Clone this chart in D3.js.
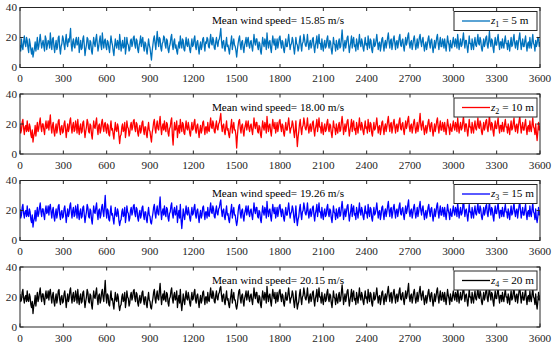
<!DOCTYPE html>
<html><head><meta charset="utf-8">
<script src="https://cdn.jsdelivr.net/npm/d3@7"></script>
<style>
body{margin:0;background:#fff}
svg{display:block}
text{font-family:"Liberation Serif","Times New Roman","DejaVu Serif",serif;fill:#262626}
</style>
</head><body>
<svg id="chart" width="553" height="346" font-family="'Liberation Serif','Times New Roman','DejaVu Serif',serif"></svg>
<script>
// ---- data ----
const xTicks = [0,300,600,900,1200,1500,1800,2100,2400,2700,3000,3300,3600];
const yTicks = [0,20,40];
const sampleStep = 5; // seconds between samples
const heightLabels = ["5","10","15","20"];
const heightIndex = ["1","2","3","4"];
const meanSpeeds = ["15.85","18.00","19.26","20.15"];
const lineColors = ["#0072BD","#FF0000","#0000FF","#000000"];

const speedZ1 = [
15,11,19,14,12,17,21,16,14,20,18,13,10,19,16,12,9,13,7,10,13,17,11,15,20,12,14,18,22,17,13,16,18,14,11,21,19,12,15,18,
17,13,23,16,12,19,20,14,10,15,18,12,14,20,21,13,9,14,16,21,19,15,12,18,22,16,14,19,17,21,26,15,11,17,19,14,13,18,20,15,
16,20,10,14,18,12,13,19,21,15,8,12,15,20,19,13,12,18,17,11,9,15,20,16,14,19,22,16,11,14,18,21,15,12,23,17,13,18,19,14,
12,18,17,13,10,16,21,17,15,11,8,14,19,15,13,18,16,12,22,17,11,15,18,13,14,20,9,13,20,16,15,11,12,18,19,14,16,20,21,15,
13,19,18,12,10,15,17,21,14,18,20,14,11,17,16,12,9,14,19,15,13,9,5,11,15,19,21,16,12,18,24,18,14,20,19,13,11,16,17,21,
20,15,13,19,18,12,10,14,16,20,22,15,12,17,19,13,15,11,9,14,17,13,21,16,13,19,18,12,11,16,20,15,14,19,16,12,10,15,19,14,
15,19,21,14,12,17,18,13,9,14,17,12,14,19,20,15,11,17,16,20,19,14,13,18,22,16,15,20,18,13,12,17,20,16,14,18,19,22,26,18,
13,17,18,13,11,16,20,14,15,12,9,14,17,21,12,16,19,15,14,11,7,12,16,19,21,15,12,17,18,13,10,15,17,20,14,18,20,15,13,17,
18,14,11,16,22,17,15,19,19,14,12,17,16,11,9,15,20,16,14,19,17,12,23,17,13,17,18,13,10,16,21,17,15,19,12,15,19,13,16,20,
21,16,13,18,17,12,10,15,19,14,14,18,22,17,12,15,16,20,18,13,9,14,20,16,15,11,13,18,21,15,11,16,17,22,19,15,14,17,22,16,
12,16,18,13,15,19,20,14,10,15,17,21,13,17,22,16,16,12,19,14,11,16,18,13,14,19,21,15,13,18,17,12,9,14,20,16,15,11,18,14,
12,17,19,13,14,19,25,18,11,15,18,13,16,20,21,15,10,14,17,21,13,18,20,14,15,11,19,16,12,17,22,16,14,19,17,13,11,16,20,15,
16,12,21,16,13,19,18,12,10,15,19,14,15,18,22,17,12,16,17,11,14,19,20,15,11,16,18,13,16,20,23,17,13,18,19,12,15,19,21,16,
12,17,18,13,16,20,22,15,14,18,19,14,11,16,20,15,17,21,23,16,13,17,18,12,15,19,21,16,12,15,19,13,16,20,22,17,14,18,20,15,
11,15,17,12,15,19,21,16,13,18,19,14,10,14,18,13,16,20,22,16,12,17,20,14,14,19,17,13,19,15,11,16,21,17,15,11,18,14,13,17,
20,16,14,19,17,13,22,17,12,16,19,14,15,19,23,17,13,18,18,14,10,15,21,16,16,12,19,15,12,17,20,15,14,18,22,16,15,20,18,13,
11,15,19,14,16,20,21,15,13,18,24,17,14,19,18,13,10,16,20,15,15,19,22,16,12,17,17,13,19,15,13,18,21,16,16,12,18,15,11,16,
20,14,15,19,22,16,13,17,18,12,16,20,23,17,12,16,19,14,14,18,21,15,11,16,17,13,20,15,13,18,22,16,15,11,18,14,16,20,19,14,
17];

const speedZ2 = [
20,14,16,21,23,17,13,18,19,15,22,16,15,20,18,13,11,16,8,12,14,19,12,17,21,15,17,21,24,18,15,20,20,16,13,19,22,17,18,22,
16,21,26,18,14,19,21,15,12,17,20,14,17,22,23,16,13,18,19,14,15,20,22,17,11,16,20,15,17,22,24,18,14,19,21,15,16,22,19,14,
23,17,13,18,20,14,15,21,22,16,11,15,18,23,21,15,14,20,19,13,10,16,22,18,17,21,24,17,13,19,20,14,16,21,23,18,15,20,21,16,
14,20,19,13,12,18,22,16,17,13,10,16,21,16,15,20,18,12,7,12,13,18,20,15,16,21,11,15,22,18,17,12,14,19,21,16,18,22,23,17,
15,21,20,14,12,17,19,14,16,21,22,16,13,18,18,13,11,17,21,16,15,11,8,14,17,21,23,17,14,19,22,17,16,21,25,18,13,18,20,16,
22,17,15,21,20,14,12,17,18,22,24,12,6,15,21,16,17,22,11,16,19,14,23,18,15,21,20,14,13,18,22,17,16,21,18,14,12,17,21,16,
17,21,23,16,14,19,20,15,11,16,19,14,16,21,22,17,13,18,18,14,21,16,15,20,24,18,17,22,20,15,14,19,22,17,16,20,21,24,27,19,
15,19,20,15,13,18,22,16,17,13,11,16,19,23,14,18,21,16,16,12,4,12,18,22,23,17,14,19,20,15,12,17,19,22,16,19,22,17,15,19,
20,16,13,18,24,19,17,21,21,15,14,19,18,13,11,17,22,18,16,21,19,14,25,19,15,19,20,15,12,18,23,19,17,21,14,17,21,15,18,22,
23,18,15,20,19,14,12,17,21,16,16,20,24,19,14,17,18,22,20,15,11,16,22,13,5,11,15,20,23,17,13,18,19,24,21,17,16,19,24,18,
14,18,20,15,17,21,22,16,12,17,19,23,15,19,24,18,18,14,21,16,13,18,20,15,16,21,23,17,15,20,19,14,11,16,22,18,17,13,20,16,
14,19,21,15,16,21,25,20,13,17,20,15,18,22,23,17,12,16,19,23,15,20,22,16,17,13,21,18,14,19,24,18,16,21,19,15,13,18,22,17,
18,14,23,18,15,21,20,14,12,17,21,16,17,20,24,19,14,18,19,13,16,21,22,17,13,18,20,15,18,22,25,19,15,20,21,14,17,21,23,18,
14,19,20,15,18,22,24,17,16,20,21,16,13,18,22,17,19,23,25,18,15,19,20,14,17,21,23,18,14,17,21,15,18,22,27,19,16,20,22,17,
13,17,19,14,17,21,23,18,15,20,21,16,12,16,20,15,18,22,24,18,14,19,22,16,16,21,19,15,21,17,13,18,23,19,17,13,20,16,15,19,
22,18,16,21,19,15,24,19,14,18,21,16,17,21,25,19,15,20,20,16,12,17,23,18,18,14,21,17,14,19,22,17,16,20,24,18,17,22,20,15,
13,17,21,16,18,22,23,17,15,20,26,19,16,21,20,15,12,18,22,17,17,21,24,18,14,19,19,15,21,17,15,20,23,18,18,14,20,17,13,18,
22,16,17,21,24,18,15,19,20,14,18,22,25,19,14,18,21,16,16,20,23,17,13,18,19,15,22,17,15,20,24,18,17,13,20,14,9,15,21,16,
19];

const speedZ3 = [
21,15,17,22,24,18,15,19,20,16,23,17,16,21,19,14,12,17,9,13,15,20,13,18,22,16,18,22,25,19,16,21,21,17,14,20,23,18,19,23,
17,22,24,19,15,20,22,16,13,18,21,15,18,23,24,17,14,19,20,15,16,21,23,18,12,17,21,16,18,23,25,19,15,20,22,16,17,23,20,15,
24,18,14,19,21,15,16,22,23,17,12,16,19,24,22,16,15,21,20,14,11,17,23,19,18,22,25,18,14,20,21,15,17,22,24,19,16,23,30,20,
15,21,20,14,13,19,23,17,18,14,11,17,22,17,16,21,19,13,10,13,14,19,21,16,17,22,12,16,23,19,18,13,15,20,22,17,19,23,24,18,
16,22,21,15,13,18,20,15,17,22,23,17,14,19,19,14,12,18,22,17,16,12,11,15,18,22,24,18,15,20,23,18,17,23,29,20,14,19,21,17,
23,18,16,22,21,15,13,18,19,23,25,18,15,20,22,17,18,23,12,17,20,15,24,14,8,14,21,17,14,19,23,18,17,22,19,15,13,18,22,17,
18,22,24,17,15,20,21,16,12,17,20,15,17,22,23,18,14,19,19,15,22,17,16,21,25,19,18,23,21,16,15,20,23,18,17,21,22,25,27,20,
16,20,21,16,14,19,23,17,18,14,12,17,20,24,15,19,22,17,17,13,10,13,19,23,24,18,15,20,21,16,13,18,20,23,17,20,23,18,16,20,
21,17,14,19,25,20,18,22,22,16,15,20,19,14,12,18,23,19,17,22,20,15,26,20,16,20,21,16,13,19,24,20,18,22,15,18,22,16,19,23,
24,19,16,21,20,15,13,18,22,17,17,21,25,20,15,18,19,23,21,16,12,17,23,15,10,14,16,21,24,18,14,19,20,25,22,18,17,20,25,19,
15,19,21,16,18,22,23,17,13,18,20,24,16,20,25,19,19,15,22,17,14,19,21,16,17,22,24,18,16,21,20,15,12,17,23,19,18,14,21,17,
15,20,22,16,17,22,26,21,14,18,21,16,19,23,24,18,13,17,20,24,16,21,23,17,18,14,22,19,15,20,25,19,17,22,20,16,14,19,23,18,
19,15,24,19,16,22,21,15,13,18,22,17,18,21,25,20,15,19,20,14,17,22,23,18,14,19,21,16,19,23,26,20,16,21,22,15,18,22,24,19,
15,20,21,16,19,23,25,18,17,21,22,17,14,19,23,18,20,24,27,19,16,20,21,15,18,22,24,19,15,18,22,16,19,23,26,20,17,21,23,18,
14,18,20,15,18,22,24,19,16,21,22,17,13,17,21,16,19,23,25,19,15,20,23,17,17,22,20,16,22,18,14,19,24,20,18,14,21,17,16,20,
23,19,17,22,20,16,25,20,15,19,22,17,18,22,29,21,16,20,21,17,13,18,24,19,19,15,22,18,15,20,23,18,17,21,25,19,18,23,21,16,
14,18,22,17,19,23,24,18,16,21,26,20,17,22,21,16,13,19,23,18,18,22,25,19,15,20,20,16,22,18,16,21,24,19,19,15,21,18,14,19,
23,17,18,22,25,19,16,20,21,15,19,23,26,20,15,19,22,17,17,21,24,18,14,19,20,16,23,18,16,21,25,19,18,14,21,15,12,16,22,17,
20];

const speedZ4 = [
22,17,18,23,25,19,16,20,21,17,24,18,17,22,20,15,13,17,9,14,16,21,14,19,23,17,19,23,26,20,17,22,22,18,15,21,24,19,20,24,
18,23,25,20,16,21,23,17,14,19,22,16,19,24,25,18,15,20,21,16,17,22,24,19,13,18,22,17,19,24,26,20,16,21,23,17,18,24,21,16,
25,19,15,20,22,16,17,23,24,18,13,17,20,25,23,17,16,22,21,15,12,18,24,20,19,23,26,19,15,21,22,16,18,23,25,20,17,24,31,21,
16,22,21,15,14,20,24,18,19,15,12,18,23,18,17,22,20,14,11,14,15,20,22,17,18,23,13,17,24,20,19,14,16,21,23,18,20,24,25,19,
17,23,22,16,14,19,21,16,18,23,24,18,15,20,20,15,13,19,23,18,17,13,12,16,19,23,25,19,16,21,24,19,18,24,29,21,15,20,22,18,
24,19,17,23,22,16,14,19,20,24,26,19,16,21,23,18,19,24,13,18,21,16,25,16,11,16,22,18,15,20,24,19,18,23,20,16,14,19,23,18,
19,23,25,18,16,21,22,17,13,18,21,16,18,23,24,19,15,20,20,16,23,18,17,22,26,20,19,24,22,17,16,21,24,19,18,22,23,26,27,21,
17,21,22,17,15,20,24,18,19,15,13,18,21,25,16,20,23,18,18,14,12,15,20,24,25,19,16,21,22,17,14,19,21,24,18,21,24,19,17,21,
22,18,15,20,26,21,19,23,23,17,16,21,20,15,13,19,24,20,18,23,21,16,27,21,17,21,22,17,14,20,25,21,19,23,16,19,23,17,20,24,
25,20,17,22,21,16,14,19,23,18,18,22,26,21,16,19,20,24,22,17,13,18,24,17,12,15,17,22,25,19,15,20,21,26,23,19,18,21,26,20,
16,20,22,17,19,23,24,18,14,19,21,25,17,21,26,20,20,16,23,18,15,20,22,17,18,23,25,19,17,22,21,16,13,18,24,20,19,15,22,18,
16,21,23,17,18,23,28,22,15,19,22,17,20,24,25,19,14,18,21,25,17,22,24,18,19,15,23,20,16,21,26,20,18,23,21,17,15,20,24,19,
20,16,25,20,17,23,22,16,14,19,23,18,19,22,26,21,16,20,21,15,18,23,24,19,15,20,22,17,20,24,27,21,17,22,23,16,19,23,25,20,
16,21,22,17,20,24,26,19,18,22,23,18,15,20,24,19,21,25,29,20,17,21,22,16,19,23,25,20,16,19,23,17,20,24,27,21,18,22,24,19,
15,19,21,16,19,23,25,20,17,22,23,18,14,18,22,17,20,24,26,20,16,21,24,18,18,23,21,17,23,19,15,20,25,21,19,15,22,18,17,21,
24,20,18,23,21,17,26,21,16,20,23,18,19,23,28,22,17,21,22,18,14,19,25,20,20,16,23,19,16,21,24,19,18,22,26,20,19,24,22,17,
15,19,23,18,20,24,25,19,17,22,27,21,18,23,22,17,14,20,24,19,19,23,26,20,16,21,21,17,23,19,17,22,25,20,20,16,22,19,15,20,
24,18,19,23,26,20,17,21,22,16,20,24,27,21,16,20,23,18,18,22,25,19,15,20,21,17,24,19,17,22,26,20,19,15,22,16,12,17,23,18,
21];

const seriesList = [speedZ1, speedZ2, speedZ3, speedZ4];

// ---- layout ----
const svg = d3.select("#chart");
const left = 20, right = 540;
const panelH = 60, firstTop = 7.5, panelStep = 86.5;
const axisColor = "#262626";
const fontSize = 11.2;

const x = d3.scaleLinear().domain([0, 3600]).range([left, right]);

seriesList.forEach((data, i) => {
  const top = firstTop + panelStep * i;
  const bottom = top + panelH;
  const y = d3.scaleLinear().domain([0, 40]).range([bottom, top]);
  const g = svg.append("g");

  const clipId = "clip" + i;
  svg.append("clipPath").attr("id", clipId).append("rect")
    .attr("x", left).attr("y", top).attr("width", right - left).attr("height", panelH);

  const line = d3.line().x((d, k) => x(k * sampleStep)).y(d => y(d));
  g.append("path").datum(data)
    .attr("clip-path", `url(#${clipId})`)
    .attr("d", line)
    .attr("fill", "none")
    .attr("stroke", lineColors[i])
    .attr("stroke-width", 1.3)
    .attr("stroke-linejoin", "round");

  g.append("rect")
    .attr("x", left).attr("y", top).attr("width", right - left).attr("height", panelH)
    .attr("fill", "none").attr("stroke", axisColor).attr("stroke-width", 1);

  xTicks.forEach(t => {
    const px = x(t);
    g.append("line").attr("x1", px).attr("x2", px).attr("y1", bottom).attr("y2", bottom - 3.5)
      .attr("stroke", axisColor).attr("stroke-width", 1);
    g.append("line").attr("x1", px).attr("x2", px).attr("y1", top).attr("y2", top + 3.5)
      .attr("stroke", axisColor).attr("stroke-width", 1);
    g.append("text").attr("x", px).attr("y", bottom + 14.5)
      .attr("text-anchor", "middle").attr("font-size", fontSize).text(t);
  });

  yTicks.forEach(v => {
    const py = y(v);
    g.append("line").attr("x1", left).attr("x2", left + 3.5).attr("y1", py).attr("y2", py)
      .attr("stroke", axisColor).attr("stroke-width", 1);
    g.append("line").attr("x1", right).attr("x2", right - 3.5).attr("y1", py).attr("y2", py)
      .attr("stroke", axisColor).attr("stroke-width", 1);
    g.append("text").attr("x", 17).attr("y", py + 3.8)
      .attr("text-anchor", "end").attr("font-size", fontSize).text(v);
  });

  g.append("text").attr("x", left + 0.369 * (right - left)).attr("y", top + 16.5)
    .attr("font-size", fontSize).style("fill", "#000")
    .text("Mean wind speed= " + meanSpeeds[i] + " m/s");

  const lx = 454, ly = top + 4;
  g.append("rect").attr("x", lx).attr("y", ly).attr("width", 83).attr("height", 19)
    .attr("fill", "#fff").attr("stroke", axisColor).attr("stroke-width", 1);
  g.append("line").attr("x1", lx + 8).attr("x2", lx + 36).attr("y1", ly + 9.5).attr("y2", ly + 9.5)
    .attr("stroke", lineColors[i]).attr("stroke-width", 1.3);
  const lt = g.append("text").attr("x", lx + 37).attr("y", ly + 12.8)
    .attr("font-size", fontSize).style("fill", "#000");
  lt.append("tspan").attr("font-style", "italic").text("z");
  lt.append("tspan").attr("font-size", 8).attr("dy", 3).text(heightIndex[i]);
  lt.append("tspan").attr("dy", -3).text(" = " + heightLabels[i] + " m");
});
</script>
</body></html>
